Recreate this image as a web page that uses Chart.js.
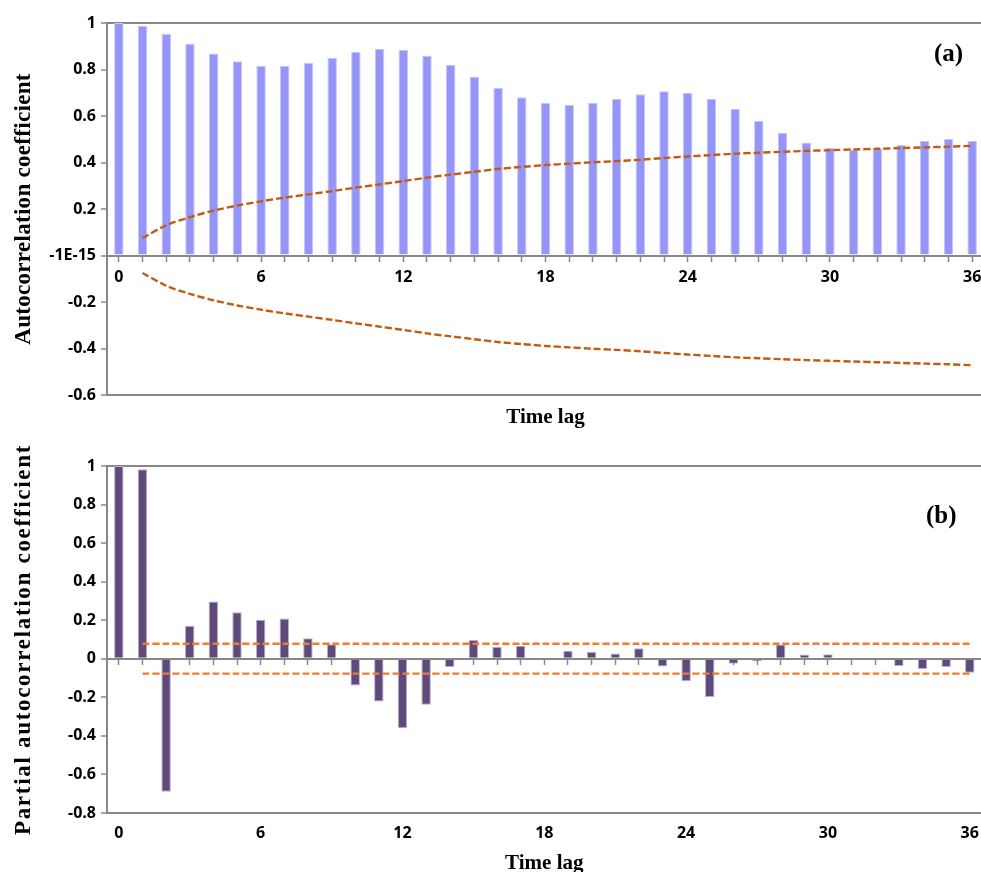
<!DOCTYPE html>
<html><head><meta charset="utf-8">
<script src="https://cdn.jsdelivr.net/npm/chart.js@4.4.1/dist/chart.umd.min.js"></script>
<style>
html,body{margin:0;padding:0;background:#fff;overflow:hidden;width:981px;height:872px;}
#wrapA{position:absolute;left:0;top:0;width:990px;height:436px;}
#wrapB{position:absolute;left:0;top:436px;width:990px;height:440px;}
.panel{position:absolute;font:bold 25px "Liberation Serif","Times New Roman",serif;line-height:1;color:#000;}
</style></head><body>
<div id="wrapA"><canvas id="cA" width="990" height="436"></canvas></div>
<div id="wrapB"><canvas id="cB" width="990" height="440"></canvas></div>
<div class="panel" style="left:934px;top:40px">(a)</div>
<div class="panel" style="left:926px;top:502px">(b)</div>
<script>
const lags = ['0','1','2','3','4','5','6','7','8','9','10','11','12','13','14','15','16','17','18','19','20','21','22','23','24','25','26','27','28','29','30','31','32','33','34','35','36'];
const acf = [1.000,0.987,0.954,0.911,0.869,0.836,0.816,0.815,0.829,0.851,0.875,0.888,0.884,0.859,0.819,0.769,0.720,0.681,0.656,0.648,0.657,0.674,0.694,0.706,0.699,0.673,0.630,0.578,0.528,0.486,0.463,0.455,0.461,0.475,0.492,0.501,0.492];
const acfUpper = [null,0.075,0.130,0.165,0.193,0.215,0.233,0.249,0.263,0.277,0.292,0.306,0.320,0.335,0.348,0.360,0.372,0.381,0.389,0.395,0.401,0.406,0.412,0.419,0.426,0.432,0.438,0.442,0.446,0.450,0.453,0.456,0.459,0.462,0.465,0.468,0.472];
const acfLower = [null,-0.075,-0.130,-0.165,-0.193,-0.215,-0.233,-0.249,-0.263,-0.277,-0.292,-0.306,-0.320,-0.335,-0.348,-0.360,-0.372,-0.381,-0.389,-0.395,-0.401,-0.406,-0.412,-0.419,-0.426,-0.432,-0.438,-0.442,-0.446,-0.450,-0.453,-0.456,-0.459,-0.462,-0.465,-0.468,-0.472];
const pacf = [1.000,0.983,-0.690,0.171,0.297,0.241,0.202,0.209,0.107,0.076,-0.138,-0.222,-0.360,-0.238,-0.043,0.097,0.062,0.067,0.000,0.041,0.036,0.028,0.055,-0.040,-0.117,-0.198,-0.026,-0.012,0.074,0.022,0.024,0.000,0.000,-0.038,-0.053,-0.043,-0.072];
const pacfUpper = [null,0.078,0.078,0.078,0.078,0.078,0.078,0.078,0.078,0.078,0.078,0.078,0.078,0.078,0.078,0.078,0.078,0.078,0.078,0.078,0.078,0.078,0.078,0.078,0.078,0.078,0.078,0.078,0.078,0.078,0.078,0.078,0.078,0.078,0.078,0.078,0.078];
const pacfLower = [null,-0.077,-0.077,-0.077,-0.077,-0.077,-0.077,-0.077,-0.077,-0.077,-0.077,-0.077,-0.077,-0.077,-0.077,-0.077,-0.077,-0.077,-0.077,-0.077,-0.077,-0.077,-0.077,-0.077,-0.077,-0.077,-0.077,-0.077,-0.077,-0.077,-0.077,-0.077,-0.077,-0.077,-0.077,-0.077,-0.077];
const xTickLabels = ['0','6','12','18','24','30','36'];
const yTicksA = ['-0.6','-0.4','-0.2','-1E-15','0.2','0.4','0.6','0.8','1'];
const yTicksB = ['-0.8','-0.6','-0.4','-0.2','0','0.2','0.4','0.6','0.8','1'];

const GRAY = '#888888';
const tickFont = {family:'"Open Sans", sans-serif', weight:'bold', size:16};
const titleFontY = {family:'"Liberation Serif", "Times New Roman", serif', weight:'bold', size:23};
const titleFontX = {family:'"Liberation Serif", "Times New Roman", serif', weight:'bold', size:21};

function xTickCb(value, index){ const l = lags[index]; return xTickLabels.includes(l) ? l : ''; }
function topGrid(c){ return (c.tick && Math.abs(c.tick.value - 1) < 1e-6) ? GRAY : 'rgba(0,0,0,0)'; }

function bandLine(data, color){
  return {type:'line', data:data, borderColor:color, borderWidth:2.4, borderDash:[7,3], pointRadius:0, tension:0.3, fill:false, order:0, xAxisID:'x', yAxisID:'y'};
}

const chartA = new Chart(document.getElementById('cA'), {
  type:'bar',
  data:{labels:lags, datasets:[
    bandLine(acfUpper, '#C55A11'),
    bandLine(acfLower, '#C55A11'),
    {type:'bar', data:acf, backgroundColor:'#9595F8', borderColor:'#C4C4FF', borderWidth:1, barPercentage:0.4, categoryPercentage:1, order:1, xAxisID:'x', yAxisID:'y'}
  ]},
  options:{
    responsive:false, animation:false, devicePixelRatio:1,
    layout:{padding:{left:0,right:6,top:23,bottom:0}},
    plugins:{legend:{display:false}, tooltip:{enabled:false}},
    scales:{
      x:{type:'category', position:'bottom', offset:true,
        grid:{display:true, drawOnChartArea:false, drawTicks:false, offset:false},
        border:{display:true, color:GRAY, width:2},
        ticks:{display:false},
        title:{display:true, text:'Time lag', font:titleFontX, color:'#000', padding:{top:0,bottom:6}},
        afterFit(s){ s.height = 41; }
      },
      xz:{type:'category', axis:'x', position:{y:0}, offset:true, z:1,
        grid:{display:true, drawOnChartArea:false, drawTicks:true, tickLength:5, tickColor:GRAY, tickWidth:1.5, offset:false},
        border:{display:true, color:GRAY, width:2},
        ticks:{autoSkip:false, maxRotation:0, minRotation:0, padding:7, font:tickFont, color:'#000', callback:xTickCb}
      },
      y:{type:'linear', min:-0.6, max:1, position:'left',
        ticks:{stepSize:0.2, font:tickFont, color:'#000', padding:5, callback:(v)=>yTicksA[Math.round((v+0.6)/0.2)]},
        grid:{color:topGrid, lineWidth:2, tickColor:GRAY, tickLength:6, tickWidth:1.5, drawTicks:true},
        border:{display:true, color:GRAY, width:2},
        title:{display:true, text:'Autocorrelation coefficient', font:titleFontY, color:'#000', padding:{top:10,bottom:0}},
        afterFit(s){ s.width = 107; }
      }
    }
  }
});

const chartB = new Chart(document.getElementById('cB'), {
  type:'bar',
  data:{labels:lags, datasets:[
    bandLine(pacfUpper, '#ED7D31'),
    bandLine(pacfLower, '#ED7D31'),
    {type:'bar', data:pacf, backgroundColor:'#604A7B', borderColor:'#B9AECB', borderWidth:1, barPercentage:0.4, categoryPercentage:1, order:1, xAxisID:'x', yAxisID:'y'}
  ]},
  options:{
    responsive:false, animation:false, devicePixelRatio:1,
    layout:{padding:{left:0,right:6,top:30,bottom:0}},
    plugins:{legend:{display:false}, tooltip:{enabled:false}},
    scales:{
      x:{type:'category', position:'bottom', offset:true,
        grid:{display:true, drawOnChartArea:false, drawTicks:false, offset:false},
        border:{display:true, color:GRAY, width:2},
        ticks:{autoSkip:false, maxRotation:0, minRotation:0, padding:11, font:tickFont, color:'#000', callback:xTickCb},
        title:{display:true, text:'Time lag', font:titleFontX, color:'#000', padding:{top:0,bottom:0}},
        afterFit(s){ s.height = 63; }
      },
      xz:{type:'category', axis:'x', position:{y:0}, offset:true, z:1,
        grid:{display:true, drawOnChartArea:false, drawTicks:true, tickLength:5, tickColor:GRAY, tickWidth:1.5, offset:false},
        border:{display:true, color:GRAY, width:2},
        ticks:{autoSkip:false, maxRotation:0, minRotation:0, padding:0, font:tickFont, callback:()=>''}
      },
      y:{type:'linear', min:-0.8, max:1, position:'left',
        ticks:{stepSize:0.2, font:tickFont, color:'#000', padding:5, callback:(v)=>yTicksB[Math.round((v+0.8)/0.2)]},
        grid:{color:topGrid, lineWidth:2, tickColor:GRAY, tickLength:6, tickWidth:1.5, drawTicks:true},
        border:{display:true, color:GRAY, width:2},
        title:{display:true, text:'Partial autocorrelation coefficient', font:titleFontY, color:'#000', padding:{top:10,bottom:0}},
        afterFit(s){ s.width = 107; }
      }
    }
  }
});

function spaceTitle(chart, spacing){
  const s = chart.scales.y;
  const orig = s.drawTitle;
  s.drawTitle = function(){
    const ctx = this.ctx;
    ctx.save();
    ctx.letterSpacing = spacing;
    orig.apply(this, arguments);
    ctx.restore();
  };
  chart.draw();
}
spaceTitle(chartA, '0.3px');
spaceTitle(chartB, '1.7px');
</script>
</body></html>
